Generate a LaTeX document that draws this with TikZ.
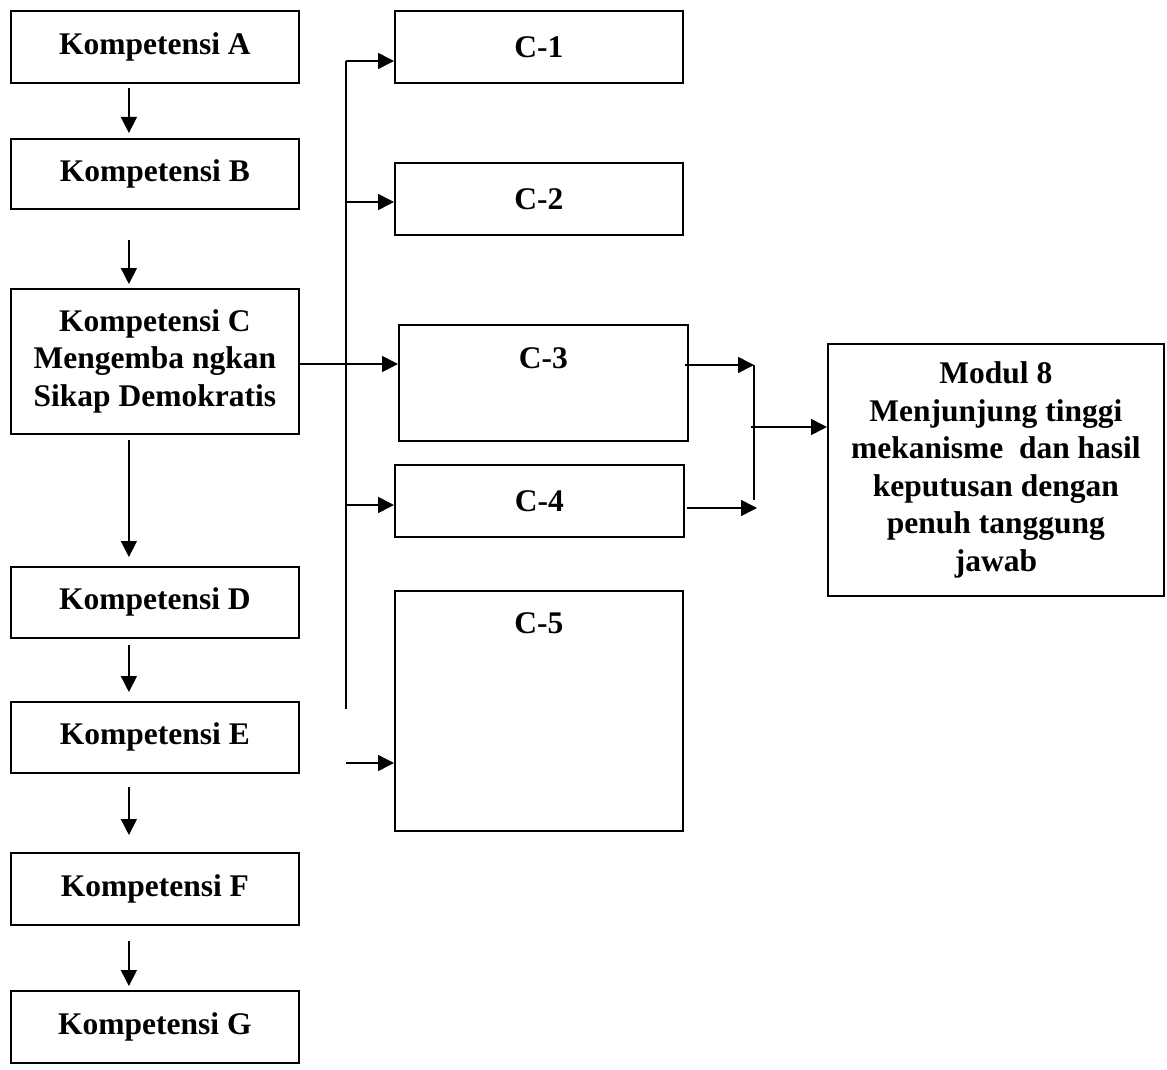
\documentclass[tikz,border=0pt]{standalone}
\usepackage{fontspec}
\setmainfont{Liberation Serif}
\usetikzlibrary{arrows.meta}
\begin{document}
\begin{tikzpicture}[x=1pt,y=-1pt,
  box/.style={draw, line width=1.8pt, inner sep=0pt, anchor=north west, align=center,
    font=\fontsize{31.5}{37.5}\selectfont\bfseries},
  lbox/.style={box, minimum width=288pt, minimum height=72pt},
  arr/.style={line width=1.6pt, -{Triangle[length=16pt,width=16pt]}},
  ln/.style={line width=1.6pt}]
\useasboundingbox (0,0) rectangle (1167,1070);
% left column
\node[lbox] (A) at (10,10) {Kompetensi A};
\node[lbox, minimum height=70pt] (B) at (10,138) {Kompetensi B};
\node[lbox, minimum height=145pt] (C) at (10,288) {Kompetensi C\\Mengemba ngkan\\Sikap Demokratis};
\node[lbox, minimum height=71pt] (D) at (10,566) {Kompetensi D};
\node[lbox, minimum height=71pt] (E) at (10,701) {Kompetensi E};
\node[lbox] (F) at (10,852) {Kompetensi F};
\node[lbox] (G) at (10,990) {Kompetensi G};
% middle column
\node[lbox] (C1) at (394,10) {C-1};
\node[lbox] (C2) at (394,162) {C-2};
\node[box, minimum width=289pt, text height=44pt, text depth=72pt] (C3) at (398,324) {C-3};
\node[lbox, minimum width=289pt] (C4) at (394,464) {C-4};
\node[box, minimum width=288pt, text height=43pt, text depth=197pt] (C5) at (394,590) {C-5};
% right box
\node[box, minimum width=336pt, minimum height=252pt] (M) at (827,343)
  {Modul 8\\Menjunjung tinggi\\mekanisme\ \ dan hasil\\keputusan dengan\\penuh tanggung\\jawab};
% left vertical arrows
\draw[arr] ([xshift=-26pt,yshift=-4pt]A.south) -- ([xshift=-26pt,yshift=5pt]B.north);
\draw[arr] ([xshift=-26pt,yshift=-30pt]B.south) -- ([xshift=-26pt,yshift=4pt]C.north);
\draw[arr] ([xshift=-26pt,yshift=-5pt]C.south) -- ([xshift=-26pt,yshift=9pt]D.north);
\draw[arr] ([xshift=-26pt,yshift=-6pt]D.south) -- ([xshift=-26pt,yshift=9pt]E.north);
\draw[arr] ([xshift=-26pt,yshift=-13pt]E.south) -- ([xshift=-26pt,yshift=17pt]F.north);
\draw[arr] ([xshift=-26pt,yshift=-15pt]F.south) -- ([xshift=-26pt,yshift=4pt]G.north);
% trunk
\coordinate (t1) at (346,61);
\coordinate (t2) at (346,202);
\coordinate (t3) at (346,364);
\coordinate (t4) at (346,505);
\coordinate (tend) at (346,709);
\coordinate (e5) at (346,763);
\draw[ln] (t1) -- (tend);
\draw[arr] (t1) -- (t1 -| C1.west);
\draw[arr] (t2) -- (t2 -| C2.west);
\draw[ln] (t3 -| C.east) -- (t3);
\draw[arr] (t3) -- (t3 -| C3.west);
\draw[arr] (t4) -- (t4 -| C4.west);
\draw[arr] (e5) -- (e5 -| C5.west);
% right joins
\coordinate (r3) at (754,365);
\coordinate (r4) at (757,508);
\coordinate (rbot) at (754,500);
\coordinate (rm) at (751,427);
\draw[arr] ([xshift=-4pt]C3.east |- r3) -- (r3);
\draw[arr] ([xshift=2pt]C4.east |- r4) -- (r4);
\draw[ln] (r3) -- (rbot);
\draw[arr] (rm) -- (rm -| M.west);
\end{tikzpicture}
\end{document}
